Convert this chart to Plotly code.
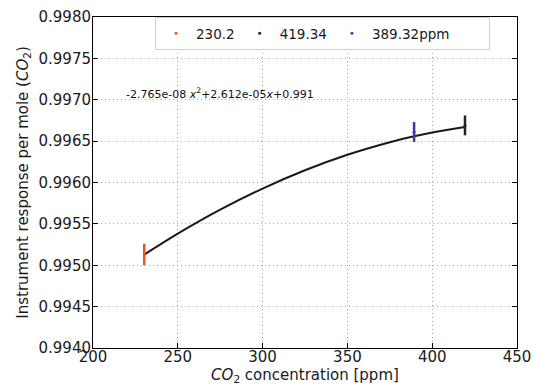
import plotly.graph_objects as go

# Fitted curve points
curve_x = [230.2, 250, 275, 300, 325, 350, 375, 389.32, 400, 419.34]
curve_y = [0.995128, 0.995382, 0.995672, 0.995927, 0.996148, 0.996335, 0.996487, 0.996558, 0.996604, 0.996671]

# Measured points with error bars
pt_names = ["230.2", "419.34", "389.32ppm"]
pt_x = [230.2, 419.34, 389.32]
pt_y = [0.99513, 0.99669, 0.99661]
pt_err = [0.00013, 0.00012, 0.00012]
pt_colors = ["#e8531f", "#222222", "#3a3aa8"]

equation = "-2.765e-08 <i>x</i><sup>2</sup>+2.612e-05<i>x</i>+0.991"

fig = go.Figure()
fig.add_trace(go.Scatter(x=curve_x, y=curve_y, mode="lines",
                         line=dict(color="#1a1a1a", width=2, shape="spline"),
                         showlegend=False, hoverinfo="skip"))
for i, (n, x, y, e, c) in enumerate(zip(pt_names, pt_x, pt_y, pt_err, pt_colors)):
    label = n + ("\u00a0" * 8 if i == len(pt_names) - 1 else "")
    fig.add_trace(go.Scatter(x=[x], y=[y], mode="markers", name=label,
                             marker=dict(color=c, size=3),
                             error_y=dict(type="data", array=[e], color=c, thickness=2.5, width=0)))

fig.add_annotation(x=218, y=0.99708, xref="x", yref="y", text=equation, showarrow=False,
                   xanchor="left", yanchor="middle", font=dict(size=11, color="#111"))

font = "DejaVu Sans"
axis_common = dict(showline=True, linecolor="black", linewidth=1, mirror="allticks",
                   ticks="inside", ticklen=5, tickcolor="black", automargin=False,
                   showgrid=True, gridcolor="#a8a8a8", griddash="1px,3px", gridwidth=1,
                   zeroline=False, tickfont=dict(size=15, color="#1a1a1a"))

fig.update_layout(
    width=533, height=388,
    margin=dict(l=93, r=16, t=17, b=40),
    paper_bgcolor="white", plot_bgcolor="white",
    font=dict(family=font, color="#1a1a1a"),
    xaxis=dict(range=[200, 450], dtick=50, tickformat="d", ticklabelstandoff=-5,
               title=dict(text="<i>CO</i><sub>2</sub> concentration [ppm]", font=dict(size=15), standoff=0),
               **axis_common),
    yaxis=dict(range=[0.9940, 0.9980], dtick=0.0005, tickformat=".4f", ticklabelstandoff=-2,
               title=dict(text="Instrument response per mole (<i>CO</i><sub>2</sub>)", font=dict(size=15), standoff=6),
               **axis_common),
    legend=dict(orientation="h", x=(155 - 93) / 424, y=1.0, xanchor="left", yanchor="top",
                bordercolor="#d0d0d0", borderwidth=1, bgcolor="white",
                font=dict(size=13.5), itemwidth=30),
)

fig.write_html("out.html", config={"displayModeBar": False},
               post_script="document.body.style.margin='0';")
